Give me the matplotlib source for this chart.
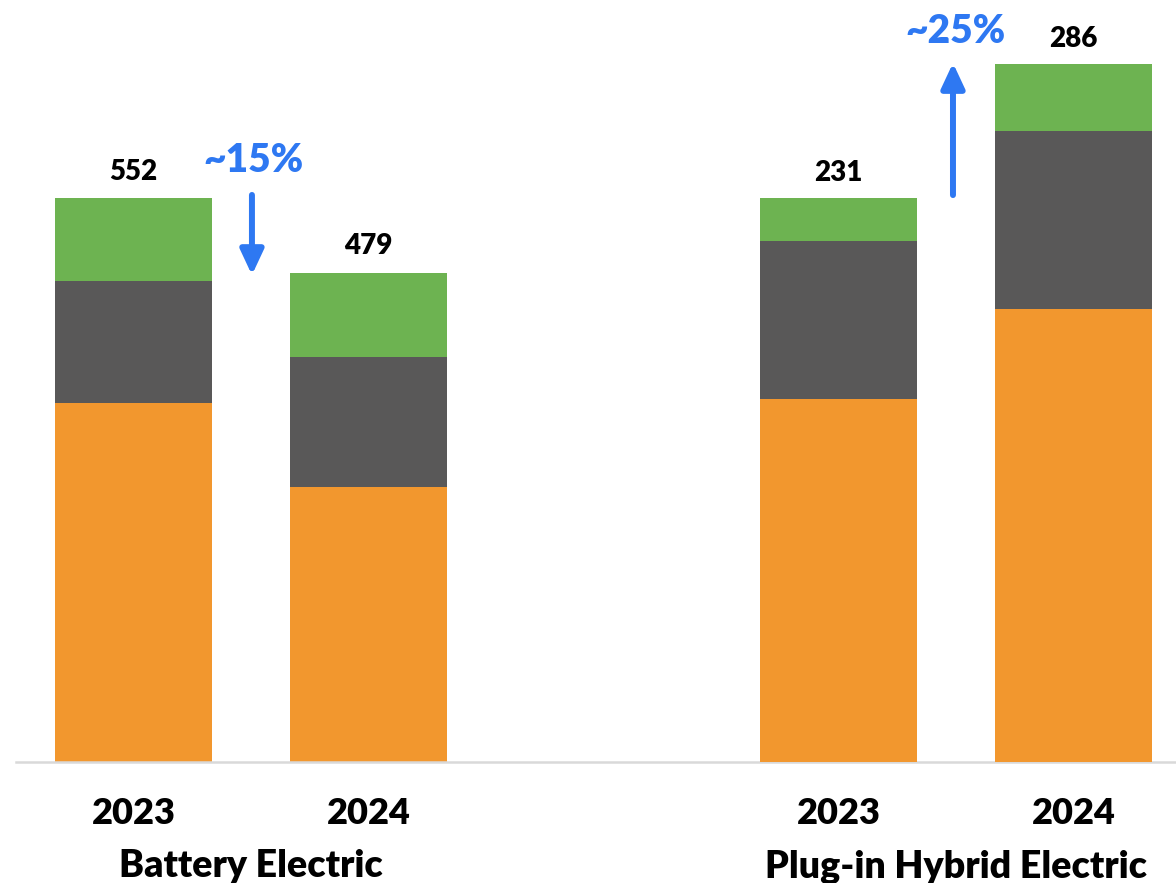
import matplotlib.pyplot as plt

years = ["2023", "2024"]
groups = ["Battery Electric", "Plug-in Hybrid Electric"]

# stacked segments, bottom to top (orange, gray, green)
bev_orange = [351.4, 269.2]
bev_gray = [119.4, 127.2]
bev_green = [81.2, 82.6]
bev_totals = [552, 479]

phev_orange = [148.7, 185.5]
phev_gray = [64.7, 72.9]
phev_green = [17.6, 27.6]
phev_totals = [231, 286]

ORANGE = '#F2972E'
GRAY = '#595858'
GREEN = '#6DB351'
BLUE = '#2E78F2'

plt.rcParams['font.family'] = ['Lato', 'DejaVu Sans']

fig = plt.figure(figsize=(11.76, 8.83), dpi=100)
ax = fig.add_axes((16 / 1176, 121 / 883, 1 - 16 / 1176, 762 / 883))
ax2 = ax.twinx()

bev_x = [0, 1]
phev_x = [3, 4]
width = 0.668


def stack(axis, xs, orange, gray, green):
    axis.bar(xs, orange, width, color=ORANGE)
    axis.bar(xs, gray, width, bottom=orange, color=GRAY)
    bottoms = [o + g for o, g in zip(orange, gray)]
    axis.bar(xs, green, width, bottom=bottoms, color=GREEN)


stack(ax, bev_x, bev_orange, bev_gray, bev_green)
stack(ax2, phev_x, phev_orange, phev_gray, phev_green)

ax.set_xlim(-0.5, 4.436)
ax.set_ylim(0, 745.8)
ax2.set_ylim(0, 312.1)

for a in (ax, ax2):
    for s in a.spines.values():
        s.set_visible(False)
    a.set_yticks([])
ax.spines['bottom'].set_visible(True)
ax.spines['bottom'].set_color('#D9D9D9')
ax.spines['bottom'].set_linewidth(1.8)

ax.set_xticks(bev_x + phev_x)
ax.set_xticklabels(years + years, fontsize=26, fontweight='heavy')
ax.tick_params(axis='x', length=0, pad=25)

# value labels
for x, v in zip(bev_x, bev_totals):
    ax.text(x, v + 13, str(v), ha='center', va='bottom',
            fontsize=20, fontweight='heavy')
for x, v in zip(phev_x, phev_totals):
    ax2.text(x, v + 5, str(v), ha='center', va='bottom',
             fontsize=20, fontweight='heavy')

# group labels
ax.text(0.5, -0.137, groups[0], transform=ax.get_xaxis_transform(),
        ha='center', va='center', fontsize=27, fontweight='heavy')
ax.text(3.5, -0.137, groups[1], transform=ax.get_xaxis_transform(),
        ha='center', va='center', fontsize=27, fontweight='heavy')

# change arrows
arrow = dict(arrowstyle='-|>,head_length=0.75,head_width=0.35',
             mutation_scale=20, lw=4.3, color=BLUE, shrinkA=0, shrinkB=0)
ax.annotate('', xy=(0.504, 476.6), xytext=(0.504, 555.0), arrowprops=arrow)
ax.text(0.51, 589, '~15%', ha='center', va='center', color=BLUE,
        fontsize=28, fontweight='heavy')

ax2.annotate('', xy=(3.487, 286.3), xytext=(3.487, 232.2), arrowprops=arrow)
ax2.text(3.497, 299.4, '~25%', ha='center', va='center', color=BLUE,
         fontsize=28, fontweight='heavy')

fig.savefig('out.png', dpi=100)
